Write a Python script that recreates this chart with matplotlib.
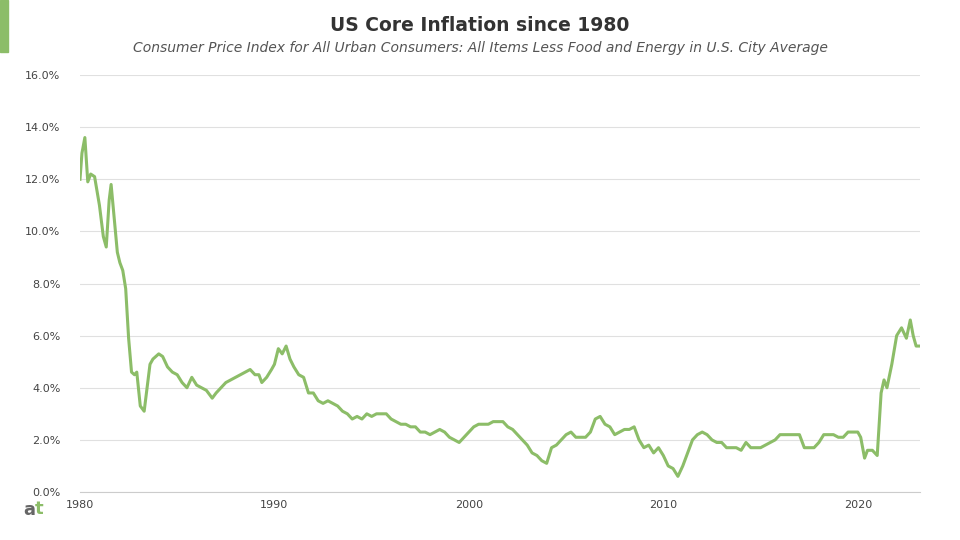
import numpy as np
import matplotlib.pyplot as plt

# quarterly-ish readings of core CPI YoY (%)
dates = [1980.0, 1980.1, 1980.25, 1980.4, 1980.55, 1980.75,
         1981.0, 1981.2, 1981.35, 1981.5, 1981.6, 1981.75, 1981.92,
         1982.05, 1982.2, 1982.35, 1982.5, 1982.65, 1982.8, 1982.92,
         1983.1, 1983.3, 1983.45, 1983.6, 1983.75, 1983.9,
         1984.05, 1984.25, 1984.5, 1984.75,
         1985.0, 1985.25, 1985.5, 1985.75,
         1986.0, 1986.25, 1986.5, 1986.8,
         1987.0, 1987.25, 1987.5, 1987.75,
         1988.0, 1988.25, 1988.5, 1988.75,
         1989.0, 1989.2, 1989.35, 1989.6, 1989.85,
         1990.0, 1990.2, 1990.4, 1990.6, 1990.8, 1991.0,
         1991.25, 1991.5, 1991.75,
         1992.0, 1992.25, 1992.5, 1992.75,
         1993.0, 1993.25, 1993.5, 1993.75,
         1994.0, 1994.25, 1994.5, 1994.75,
         1995.0, 1995.25, 1995.5, 1995.75,
         1996.0, 1996.25, 1996.5, 1996.75,
         1997.0, 1997.25, 1997.5, 1997.75,
         1998.0, 1998.25, 1998.5, 1998.75,
         1999.0, 1999.25, 1999.5, 1999.75,
         2000.0, 2000.25, 2000.5, 2000.75,
         2001.0, 2001.25, 2001.5, 2001.75,
         2002.0, 2002.25, 2002.5, 2002.75,
         2003.0, 2003.25, 2003.5, 2003.75,
         2004.0, 2004.25, 2004.5, 2004.75,
         2005.0, 2005.25, 2005.5, 2005.75,
         2006.0, 2006.25, 2006.5, 2006.75,
         2007.0, 2007.25, 2007.5, 2007.75,
         2008.0, 2008.25, 2008.5, 2008.75,
         2009.0, 2009.25, 2009.5, 2009.75,
         2010.0, 2010.25, 2010.5, 2010.75,
         2011.0, 2011.25, 2011.5, 2011.75,
         2012.0, 2012.25, 2012.5, 2012.75,
         2013.0, 2013.25, 2013.5, 2013.75,
         2014.0, 2014.25, 2014.5, 2014.75,
         2015.0, 2015.25, 2015.5, 2015.75,
         2016.0, 2016.25, 2016.5, 2016.75,
         2017.0, 2017.25, 2017.5, 2017.75,
         2018.0, 2018.25, 2018.5, 2018.75,
         2019.0, 2019.25, 2019.5, 2019.75,
         2020.0, 2020.15, 2020.35, 2020.5, 2020.75,
         2021.0, 2021.2, 2021.35, 2021.5, 2021.75,
         2022.0, 2022.25, 2022.5, 2022.7, 2022.85,
         2023.0, 2023.15]
core_cpi = [12.0, 13.0, 13.6, 11.9, 12.2, 12.1,
            11.0, 9.8, 9.4, 11.2, 11.8, 10.6, 9.2,
            8.8, 8.5, 7.8, 5.9, 4.6, 4.5, 4.6,
            3.3, 3.1, 4.0, 4.9, 5.1, 5.2,
            5.3, 5.2, 4.8, 4.6,
            4.5, 4.2, 4.0, 4.4,
            4.1, 4.0, 3.9, 3.6,
            3.8, 4.0, 4.2, 4.3,
            4.4, 4.5, 4.6, 4.7,
            4.5, 4.5, 4.2, 4.4, 4.7,
            4.9, 5.5, 5.3, 5.6, 5.1, 4.8,
            4.5, 4.4, 3.8,
            3.8, 3.5, 3.4, 3.5,
            3.4, 3.3, 3.1, 3.0,
            2.8, 2.9, 2.8, 3.0,
            2.9, 3.0, 3.0, 3.0,
            2.8, 2.7, 2.6, 2.6,
            2.5, 2.5, 2.3, 2.3,
            2.2, 2.3, 2.4, 2.3,
            2.1, 2.0, 1.9, 2.1,
            2.3, 2.5, 2.6, 2.6,
            2.6, 2.7, 2.7, 2.7,
            2.5, 2.4, 2.2, 2.0,
            1.8, 1.5, 1.4, 1.2,
            1.1, 1.7, 1.8, 2.0,
            2.2, 2.3, 2.1, 2.1,
            2.1, 2.3, 2.8, 2.9,
            2.6, 2.5, 2.2, 2.3,
            2.4, 2.4, 2.5, 2.0,
            1.7, 1.8, 1.5, 1.7,
            1.4, 1.0, 0.9, 0.6,
            1.0, 1.5, 2.0, 2.2,
            2.3, 2.2, 2.0, 1.9,
            1.9, 1.7, 1.7, 1.7,
            1.6, 1.9, 1.7, 1.7,
            1.7, 1.8, 1.9, 2.0,
            2.2, 2.2, 2.2, 2.2,
            2.2, 1.7, 1.7, 1.7,
            1.9, 2.2, 2.2, 2.2,
            2.1, 2.1, 2.3, 2.3,
            2.3, 2.1, 1.3, 1.6, 1.6,
            1.4, 3.8, 4.3, 4.0, 4.9,
            6.0, 6.3, 5.9, 6.6, 6.0,
            5.6, 5.6]

fig = plt.figure(figsize=(9.6, 5.4), dpi=100)
ax = fig.add_axes([80/960, 48/540, 840/960, 417/540])
ax.plot(dates, core_cpi, color='#8cbd68', lw=2.2)
ax.set_xlim(1980, 2023.2)
ax.set_ylim(0, 16)
ax.set_yticks(np.arange(0, 17, 2))
ax.set_yticklabels([f'{v:.1f}%' for v in np.arange(0, 17, 2)])
ax.set_xticks([1980, 1990, 2000, 2010, 2020])
ax.tick_params(colors='#444444', labelsize=8, length=0)
ax.tick_params(axis='x', pad=6)
ax.tick_params(axis='y', pad=14)
ax.grid(axis='y', color='#e0e0e0', lw=0.8)
ax.set_axisbelow(True)
for s in ['top', 'right', 'left']:
    ax.spines[s].set_visible(False)
ax.spines['bottom'].set_color('#cccccc')

fig.text(0.5, 0.942, 'US Core Inflation since 1980', ha='center', fontsize=13.5,
         fontweight='bold', color='#333333')
fig.text(0.5, 0.903, 'Consumer Price Index for All Urban Consumers: All Items Less Food and Energy in U.S. City Average',
         ha='center', fontsize=10, style='italic', color='#555555')
fig.patches.append(plt.Rectangle((0, 1 - 52/540), 8/960, 52/540, transform=fig.transFigure,
                                 color='#8cbd68'))
fig.text(23/960, 1 - 510/540, 'a', fontsize=13, fontweight='bold', color='#666666', va='center')
fig.text(35/960, 1 - 509/540, 't', fontsize=13, fontweight='bold', color='#8cbd68', va='center')

fig.savefig('out.png')
